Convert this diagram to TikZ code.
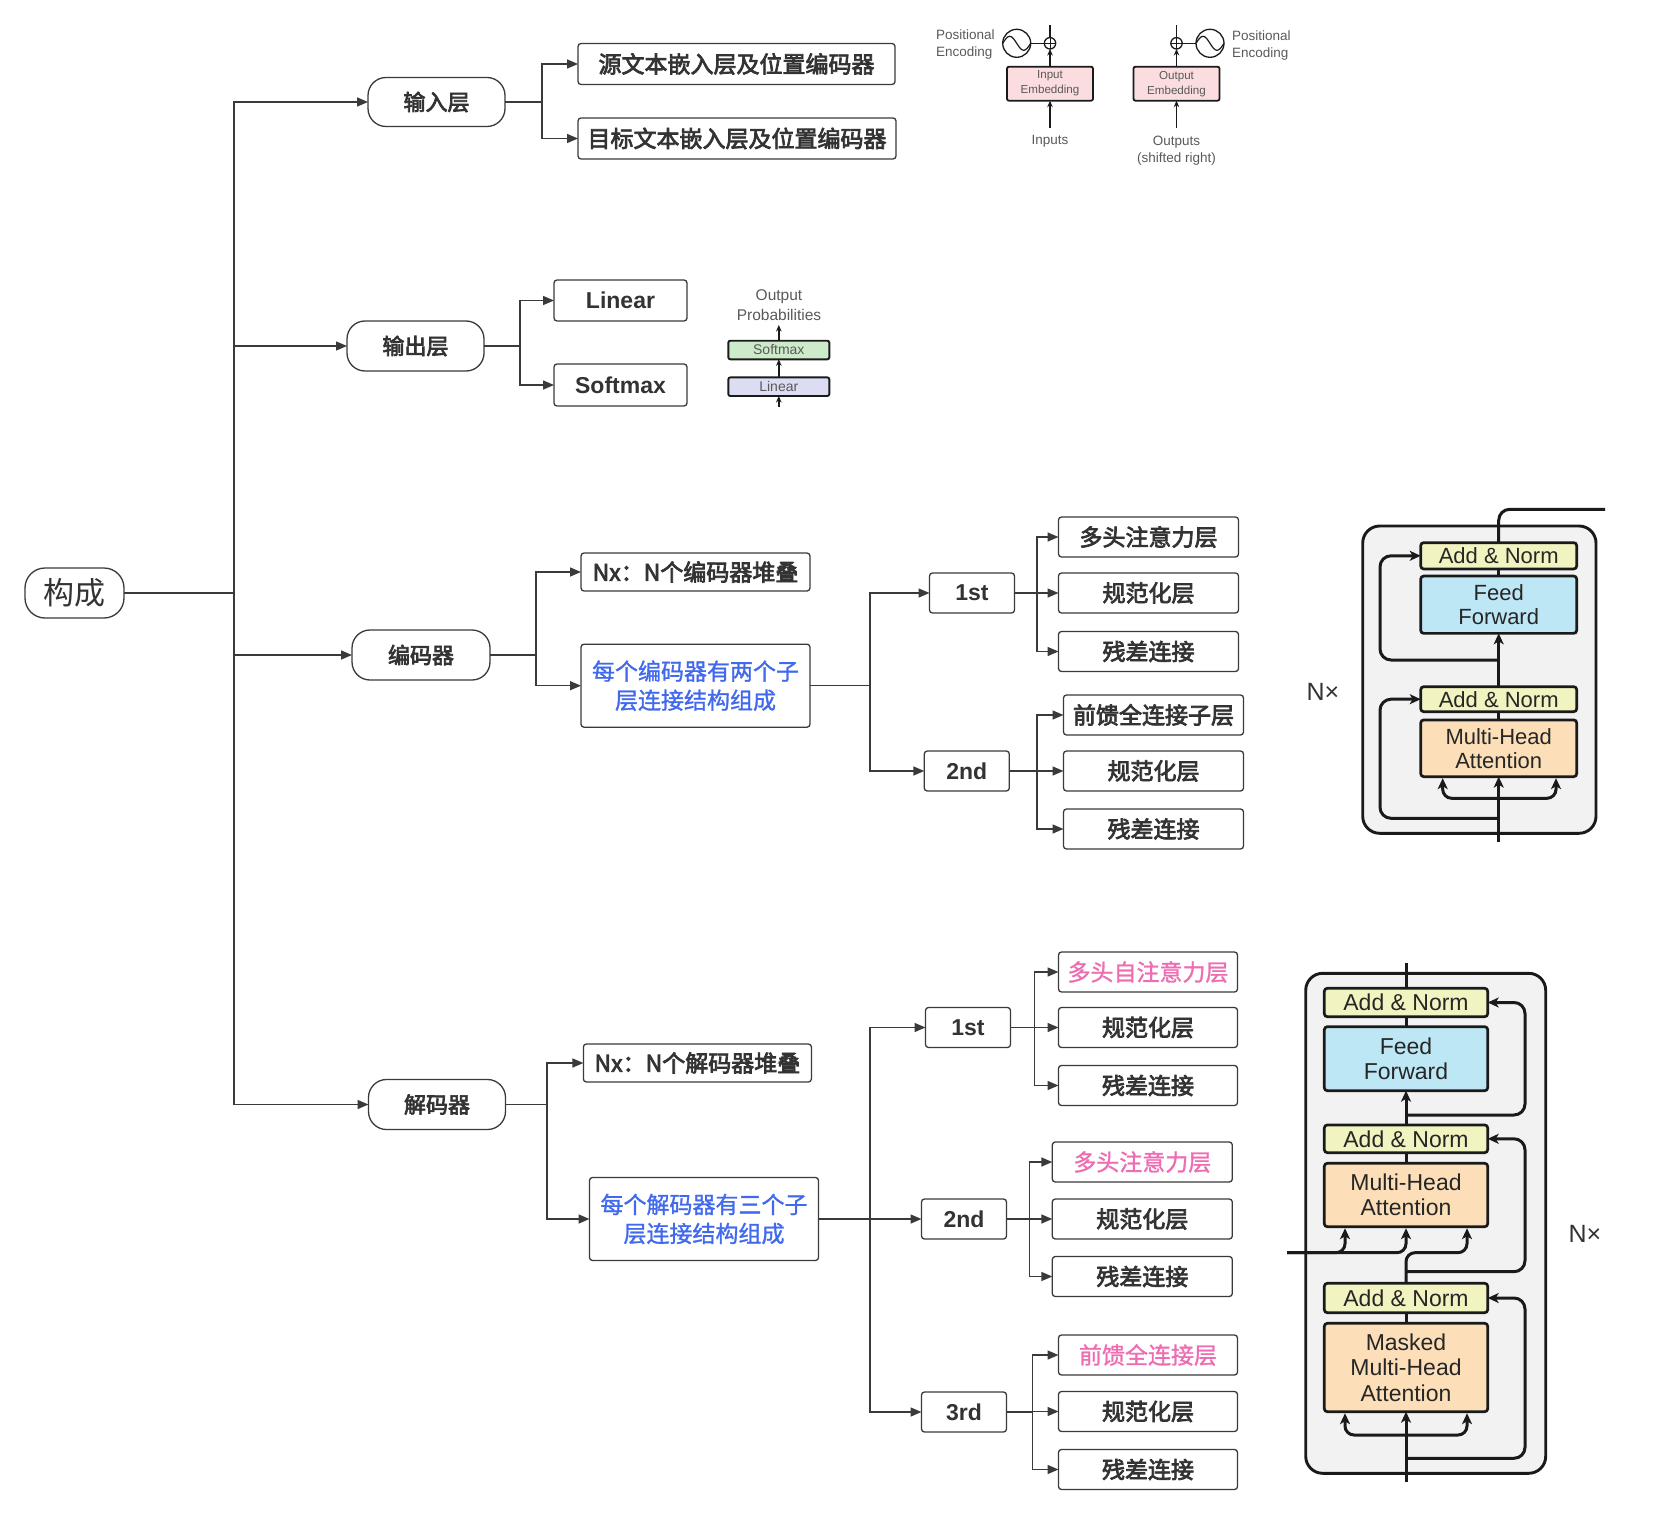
\documentclass[tikz,border=0pt]{standalone}
\usepackage{fontspec}
\setmainfont{Liberation Sans}
\newfontfamily\cjk{Noto Sans CJK SC}
\newfontfamily\cjkm{Noto Sans CJK SC}[FakeBold=3.2]
\newfontfamily\cjkl{Noto Sans CJK SC}[FakeBold=1.2]
\usetikzlibrary{arrows.meta,calc}
\definecolor{lc}{HTML}{3A3A3A}
\definecolor{tc}{HTML}{333333}
\definecolor{blu}{HTML}{4169EE}
\definecolor{pnk}{HTML}{EE6DB2}
\definecolor{anc}{HTML}{F1F4C0}
\definecolor{ffc}{HTML}{BEE7F6}
\definecolor{mhc}{HTML}{FCDFB8}
\definecolor{embc}{HTML}{FBDDE0}
\definecolor{smc}{HTML}{CDEACB}
\definecolor{lic}{HTML}{DCDDF2}
\definecolor{bgc}{HTML}{F2F2F2}
\definecolor{fk}{HTML}{1A1A1A}
\begin{document}
\begin{tikzpicture}[x=1pt,y=-1pt,
  every node/.style={inner sep=0pt,outer sep=0pt},
  wh/.style 2 args={minimum width=#1pt,minimum height=#2pt},
  box/.style={draw=lc,line width=1.3pt,rounded corners=3pt,fill=white,text=tc,align=center,
    font=\cjkm\fontsize{23}{28}\selectfont},
  lbox/.style={box,font=\bfseries\fontsize{23}{28}\selectfont},
  pill/.style={box,rounded corners=18pt,font=\cjkm\fontsize{22}{26}\selectfont},
  rootbox/.style={box,rounded corners=20pt,font=\cjk\fontsize{31}{36}\selectfont},
  bluebox/.style={box,text=blu,font=\cjkl\fontsize{23}{29}\selectfont},
  pinkbox/.style={box,text=pnk,font=\cjkl\fontsize{23}{28}\selectfont},
  arr/.style={draw=lc,line width=1.5pt,-{Triangle[length=11pt,width=9pt]}},
  tb/.style={draw=fk,line width=2.7pt,rounded corners=3pt,align=center,text=black!85,
    font=\fontsize{22}{24}\selectfont},
  tbd/.style={tb,font=\fontsize{23}{25.5}\selectfont},
  tarr/.style={draw=fk,line width=3pt,-{Stealth[length=11pt,width=10pt,inset=3pt]}},
  tline/.style={draw=fk,line width=3pt},
  emb/.style={draw=fk,line width=1.8pt,fill=embc,rounded corners=2pt,align=center,text=black!65,
    wh={86}{34},font=\fontsize{11.6}{15}\selectfont},
  pbox/.style={draw=fk,line width=1.9pt,rounded corners=2pt,text=black!65,wh={101}{18.6},
    font=\fontsize{14}{16}\selectfont},
  small/.style={text=black!65,font=\fontsize{13.5}{17}\selectfont},
  sarr/.style={draw=fk,line width=1.6pt,-{Stealth[length=6.5pt,width=5.5pt]}},
  sline/.style={draw=fk,line width=1.5pt}
]
\useasboundingbox (0,0) rectangle (1665,1514);

% ---------------- tree nodes ----------------
\node[rootbox,wh={99}{50}] (root) at (74.5,593) {构成};
\node[pill,wh={137}{49}] (inp) at (436.5,102) {输入层};
\node[pill,wh={137}{50}] (outp) at (415.5,346) {输出层};
\node[pill,wh={138}{50}] (enc) at (421,655) {编码器};
\node[pill,wh={137}{50}] (dec) at (437,1104.5) {解码器};

\node[box,wh={317}{41}] (src) at (736.5,64) {源文本嵌入层及位置编码器};
\node[box,wh={318}{41}] (tgt) at (737,138.5) {目标文本嵌入层及位置编码器};

\node[lbox,wh={133}{41}] (lin) at (620.5,300.5) {Linear};
\node[lbox,wh={133}{42}] (soft) at (620.5,385) {Softmax};

\node[box,wh={229}{38}] (encnx) at (695.5,572) {Nx：N个编码器堆叠};
\node[bluebox,wh={229}{83}] (encsub) at (695.5,685.7) {每个编码器有两个子\\层连接结构组成};
\node[lbox,wh={85}{40}] (e1) at (972,593) {1st};
\node[lbox,wh={85}{40}] (e2) at (966.8,771) {2nd};
\node[box,wh={180}{40}] (e1a) at (1148.5,537) {多头注意力层};
\node[box,wh={180}{40}] (e1b) at (1148.5,593) {规范化层};
\node[box,wh={180}{40}] (e1c) at (1148.5,651.5) {残差连接};
\node[box,wh={180}{40}] (e2a) at (1153.5,715) {前馈全连接子层};
\node[box,wh={180}{40}] (e2b) at (1153.5,771) {规范化层};
\node[box,wh={180}{40}] (e2c) at (1153.5,829) {残差连接};

\node[box,wh={228}{38}] (decnx) at (697.4,1063) {Nx：N个解码器堆叠};
\node[bluebox,wh={229}{83}] (decsub) at (704,1219) {每个解码器有三个子\\层连接结构组成};
\node[lbox,wh={85}{40}] (d1) at (968,1027.5) {1st};
\node[lbox,wh={85}{40}] (d2) at (964,1219) {2nd};
\node[lbox,wh={85}{40}] (d3) at (964,1412) {3rd};
\node[pinkbox,wh={179}{40}] (d1a) at (1148,972) {多头自注意力层};
\node[box,wh={179}{40}] (d1b) at (1148,1027.5) {规范化层};
\node[box,wh={179}{40}] (d1c) at (1148,1085.5) {残差连接};
\node[pinkbox,wh={180}{40}] (d2a) at (1142.3,1162) {多头注意力层};
\node[box,wh={180}{40}] (d2b) at (1142.3,1219) {规范化层};
\node[box,wh={180}{40}] (d2c) at (1142.3,1276.5) {残差连接};
\node[pinkbox,wh={179}{40}] (d3a) at (1148,1355) {前馈全连接层};
\node[box,wh={179}{40}] (d3b) at (1148,1411.5) {规范化层};
\node[box,wh={179}{40}] (d3c) at (1148,1469.5) {残差连接};

% ---------------- branch points ----------------
\coordinate (bR) at (234,0);
\coordinate (bI) at (542,0);
\coordinate (bO) at (520,0);
\coordinate (bE) at (536,0);
\coordinate (bD) at (547,0);
\coordinate (bEs) at (870,0);
\coordinate (bDs) at (870,0);
\coordinate (bE1) at (1037,0);
\coordinate (bE2) at (1037,0);
\coordinate (bD1) at (1034.5,0);
\coordinate (bD2) at (1029.5,0);
\coordinate (bD3) at (1032.5,0);

% ---------------- tree connectors ----------------
\foreach \c in {inp,outp,enc,dec}
  \draw[arr] (root.east) -- (bR |- root.east) |- (\c.west);
\foreach \c in {src,tgt}
  \draw[arr] (inp.east) -- (bI |- inp.east) |- (\c.west);
\foreach \c in {lin,soft}
  \draw[arr] (outp.east) -- (bO |- outp.east) |- (\c.west);
\foreach \c in {encnx,encsub}
  \draw[arr] (enc.east) -- (bE |- enc.east) |- (\c.west);
\foreach \c in {decnx,decsub}
  \draw[arr] (dec.east) -- (bD |- dec.east) |- (\c.west);
\foreach \c in {e1,e2}
  \draw[arr] (encsub.east) -- (bEs |- encsub.east) |- (\c.west);
\foreach \c in {d1,d2,d3}
  \draw[arr] (decsub.east) -- (bDs |- decsub.east) |- (\c.west);
\foreach \c in {e1a,e1b,e1c}
  \draw[arr] (e1.east) -- (bE1 |- e1.east) |- (\c.west);
\foreach \c in {e2a,e2b,e2c}
  \draw[arr] (e2.east) -- (bE2 |- e2.east) |- (\c.west);
\foreach \c in {d1a,d1b,d1c}
  \draw[arr] (d1.east) -- (bD1 |- d1.east) |- (\c.west);
\foreach \c in {d2a,d2b,d2c}
  \draw[arr] (d2.east) -- (bD2 |- d2.east) |- (\c.west);
\foreach \c in {d3a,d3b,d3c}
  \draw[arr] (d3.east) -- (bD3 |- d3.east) |- (\c.west);

% ---------------- embedding figure ----------------
\node[emb] (iemb) at (1050,83.7) {Input\\Embedding};
\node[emb] (oemb) at (1176.5,83.7) {Output\\Embedding};
\node[circle,draw=fk,line width=1.3pt,minimum size=11.4pt] (iplus) at (1050,43.3) {};
\node[circle,draw=fk,line width=1.3pt,minimum size=11.4pt] (oplus) at (1176.5,43.3) {};
\draw[sline,line width=1pt] (iplus.north) -- (iplus.south) (iplus.west) -- (iplus.east);
\draw[sline,line width=1pt] (oplus.north) -- (oplus.south) (oplus.west) -- (oplus.east);
\node[circle,draw=fk,line width=1.3pt,minimum size=28pt] (isin) at (1016.7,43.3) {};
\node[circle,draw=fk,line width=1.3pt,minimum size=28pt] (osin) at (1210,43.3) {};
\draw[line width=1.2pt,draw=fk] ([xshift=-14pt]isin.center) sin ++(7,-7) cos ++(7,7) sin ++(7,7) cos ++(7,-7);
\draw[line width=1.2pt,draw=fk] ([xshift=-14pt]osin.center) sin ++(7,-7) cos ++(7,7) sin ++(7,7) cos ++(7,-7);
\draw[sline] (isin.east) -- (iplus.west);
\draw[sline] (oplus.east) -- (osin.west);
\coordinate (itop) at (1050,25);
\coordinate (otop) at (1176.5,25);
\draw[sline] (iplus.north) -- (itop);
\draw[sline] (oplus.north) -- (otop);
\draw[sarr] (iemb.north) -- (iplus.south);
\draw[sarr] (oemb.north) -- (oplus.south);
\coordinate (iin) at (1050,128);
\coordinate (oin) at (1176.5,128);
\draw[sarr] (iin) -- (iemb.south);
\draw[sarr] (oin) -- (oemb.south);
\node[small] (inputs) at (1050,141.7) {Inputs};
\node[small,align=center] (outputs) at (1176.5,150.5) {Outputs\\(shifted right)};
\node[small,align=left,anchor=west] (ipe) at (936,44.5) {Positional\\Encoding};
\node[small,align=left,anchor=west] (ope) at (1232,46) {Positional\\Encoding};

% ---------------- output probabilities figure ----------------
\node[pbox,fill=smc] (psm) at (778.8,350) {Softmax};
\node[pbox,fill=lic] (pli) at (778.8,386.7) {Linear};
\node[align=center,text=black!65,font=\fontsize{15.5}{20}\selectfont] (pout) at (779,305) {Output\\Probabilities};
\coordinate (pin) at (778.8,406.7);
\coordinate (ptop) at (778.8,325);
\draw[sarr] (pin) -- (pli.south);
\draw[sarr] (pli.north) -- (psm.south);
\draw[sarr] (psm.north) -- (ptop);

% ---------------- encoder figure ----------------
\draw[line width=2.9pt,draw=fk,fill=bgc,rounded corners=17pt] (1362.7,526) rectangle (1596,833.3);
\node[tb,fill=anc,wh={156}{26.3}] (eAN1) at (1498.7,555.8) {Add \& Norm};
\node[tb,fill=ffc,wh={156}{57.3}] (eFF) at (1498.7,604.7) {Feed\\Forward};
\node[tb,fill=anc,wh={156}{25}] (eAN2) at (1498.7,699.2) {Add \& Norm};
\node[tb,fill=mhc,wh={156}{56.7}] (eMHA) at (1498.7,748.3) {Multi-Head\\Attention};
\node[text=black!80,font=\fontsize{25}{27}\selectfont] (eNx) at (1323,692) {N×};
\coordinate (eIn) at (1498.7,841.7);
\coordinate (eBr) at (1498.7,798.3);
\coordinate (eR1) at (1498.7,818.3);
\coordinate (eR2) at (1498.7,660);
\coordinate (eL) at (1380,0);
\coordinate (eOut) at (1605,509.3);
\draw[tarr] (eIn) -- (eMHA.south);
\draw[tarr,rounded corners=9pt] (eBr) -| ([xshift=-56pt,yshift=-1.5pt]eMHA.south);
\draw[tarr,rounded corners=9pt] (eBr) -| ([xshift=57.3pt,yshift=-1.5pt]eMHA.south);
\draw[tarr,rounded corners=11pt] (eR1) -| (eL |- eAN2.west) -- (eAN2.west);
\draw[tline] (eMHA.north) -- (eAN2.south);
\draw[tarr] (eAN2.north) -- (eFF.south);
\draw[tarr,rounded corners=11pt] (eR2) -| (eL |- eAN1.west) -- (eAN1.west);
\draw[tline] (eFF.north) -- (eAN1.south);
\draw[tline,rounded corners=11pt] (eAN1.north) |- (eOut);

% ---------------- decoder figure ----------------
\draw[line width=2.9pt,draw=fk,fill=bgc,rounded corners=17pt] (1305.7,973.3) rectangle (1545.7,1473.3);
\node[tbd,fill=anc,wh={163.4}{28.4}] (dAN1) at (1406,1002.5) {Add \& Norm};
\node[tbd,fill=ffc,wh={163.4}{64}] (dFF) at (1406,1058.7) {Feed\\Forward};
\node[tbd,fill=anc,wh={163.4}{27.7}] (dAN2) at (1406,1138.8) {Add \& Norm};
\node[tbd,fill=mhc,wh={163.4}{63.4}] (dMHA) at (1406,1195) {Multi-Head\\Attention};
\node[tbd,fill=anc,wh={163.4}{29.4}] (dAN3) at (1406,1298) {Add \& Norm};
\node[tbd,fill=mhc,wh={163.4}{88.4}] (dMM) at (1406,1367.5) {Masked\\Multi-Head\\Attention};
\node[text=black!80,font=\fontsize{25}{27}\selectfont] (dNx) at (1585,1234) {N×};
\coordinate (dIn) at (1406,1482);
\coordinate (dBr) at (1406,1435);
\coordinate (dR3) at (1406,1458.3);
\coordinate (dR2) at (1406,1271.7);
\coordinate (dR1) at (1406,1115);
\coordinate (dRx) at (1525,0);
\coordinate (dQ) at (1467,1252.7);
\coordinate (dKV) at (1287,1252.7);
\coordinate (dTop) at (1406,963);
\draw[tarr] (dIn) -- (dMM.south);
\draw[tarr,rounded corners=9pt] (dBr) -| ([xshift=-61pt,yshift=-1.5pt]dMM.south);
\draw[tarr,rounded corners=9pt] (dBr) -| ([xshift=61pt,yshift=-1.5pt]dMM.south);
\draw[tarr,rounded corners=11pt] (dR3) -| (dRx |- dAN3.east) -- (dAN3.east);
\draw[tline] (dMM.north) -- (dAN3.south);
\draw[tarr,rounded corners=9pt] (dAN3.north) |- (dQ) -- ([xshift=61pt,yshift=-1.5pt]dMHA.south);
\draw[tarr,rounded corners=11pt] (dR2) -| (dRx |- dAN2.east) -- (dAN2.east);
\draw[tarr,rounded corners=9pt] (dKV) -| ([xshift=-61pt,yshift=-1.5pt]dMHA.south);
\draw[tarr,rounded corners=9pt] (dKV) -| ([yshift=-1.5pt]dMHA.south);
\draw[tline] (dMHA.north) -- (dAN2.south);
\draw[tarr] (dAN2.north) -- (dFF.south);
\draw[tarr,rounded corners=11pt] (dR1) -| (dRx |- dAN1.east) -- (dAN1.east);
\draw[tline] (dFF.north) -- (dAN1.south);
\draw[tline] (dAN1.north) -- (dTop);
\end{tikzpicture}
\end{document}
